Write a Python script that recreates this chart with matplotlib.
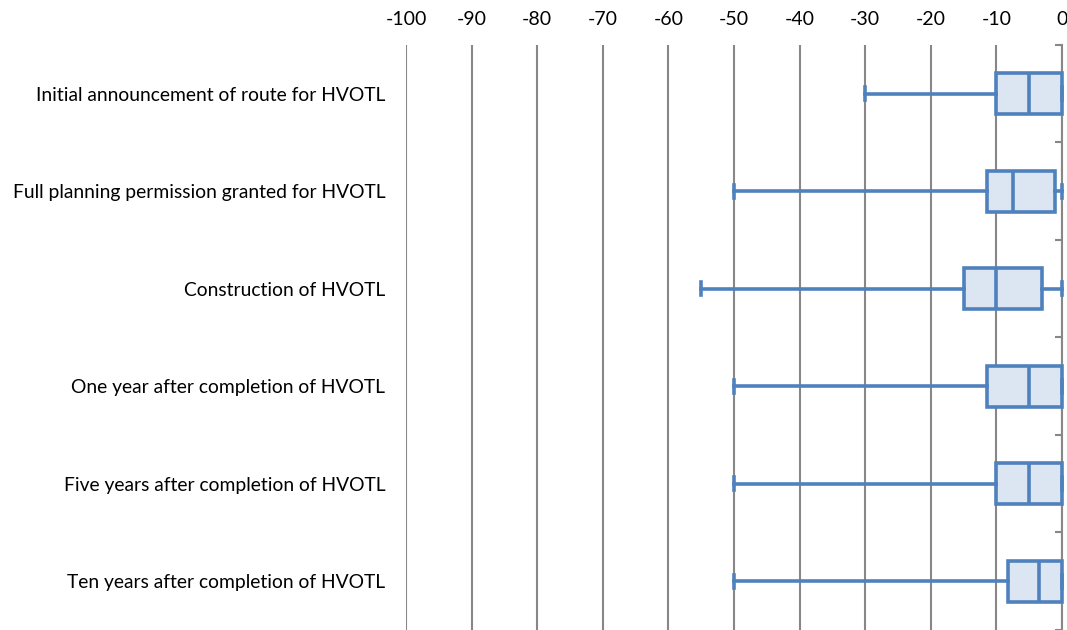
import matplotlib
matplotlib.use('Agg')
import matplotlib.pyplot as plt

categories = ['Initial announcement of route for HVOTL',
              'Full planning permission granted for HVOTL',
              'Construction of HVOTL',
              'One year after completion of HVOTL',
              'Five years after completion of HVOTL',
              'Ten years after completion of HVOTL']
mins = [-30, -50, -55, -50, -50, -50]
q1s = [-10, -11.5, -15, -11.5, -10, -8.2]
medians = [-5, -7.5, -10, -5, -5, -3.5]
q3s = [0, -1, -3, 0, 0, 0]
maxs = [0, 0, 0, 0, 0, 0]
xticks = list(range(-100, 1, 10))

blue = '#4F81BD'
fill = '#DCE6F2'
grid = '#878787'

plt.rcParams['font.family'] = ['Lato', 'DejaVu Sans']

fig = plt.figure(figsize=(10.67, 6.3), dpi=100)
ax = fig.add_axes([0.3805, 0.0, 0.6148, 0.9286])

stats = []
for i in range(len(categories)):
    stats.append({'whislo': mins[i], 'q1': q1s[i], 'med': medians[i],
                  'q3': q3s[i], 'whishi': maxs[i], 'fliers': []})

pos = list(range(len(categories)))
bp = ax.bxp(stats, positions=pos, orientation='horizontal', widths=0.42,
            patch_artist=True, showfliers=False, capwidths=0.13,
            boxprops=dict(facecolor=fill, edgecolor=blue, linewidth=2.6),
            medianprops=dict(color=blue, linewidth=2.6),
            whiskerprops=dict(color=blue, linewidth=2.6),
            capprops=dict(color=blue, linewidth=2.6))
for key in ('boxes', 'medians', 'whiskers', 'caps'):
    for a in bp[key]:
        a.set_clip_on(False)
        a.set_zorder(3)

ax.set_xlim(-100, 0)
ax.set_ylim(len(categories) - 0.5, -0.5)
ax.set_xticks(xticks)
ax.set_xticklabels([str(v) for v in xticks])
ax.xaxis.tick_top()
ax.tick_params(axis='x', which='major', length=0, pad=12, labelsize=14)
ax.grid(axis='x', color=grid, linewidth=1.5)
ax.set_axisbelow(True)

ax.set_yticks(pos)
ax.set_yticklabels(categories)
ax.tick_params(axis='y', which='major', length=0, pad=15, labelsize=13.9)
ax.set_yticks([p - 0.5 for p in pos] + [len(categories) - 0.5], minor=True)
ax.tick_params(axis='y', which='minor', left=False, right=True,
               direction='in', length=5, width=1.5, color=grid)

for s in ('left', 'top', 'bottom'):
    ax.spines[s].set_visible(False)
ax.spines['right'].set_color(grid)
ax.spines['right'].set_linewidth(1.5)

fig.savefig('out.png', dpi=100)
